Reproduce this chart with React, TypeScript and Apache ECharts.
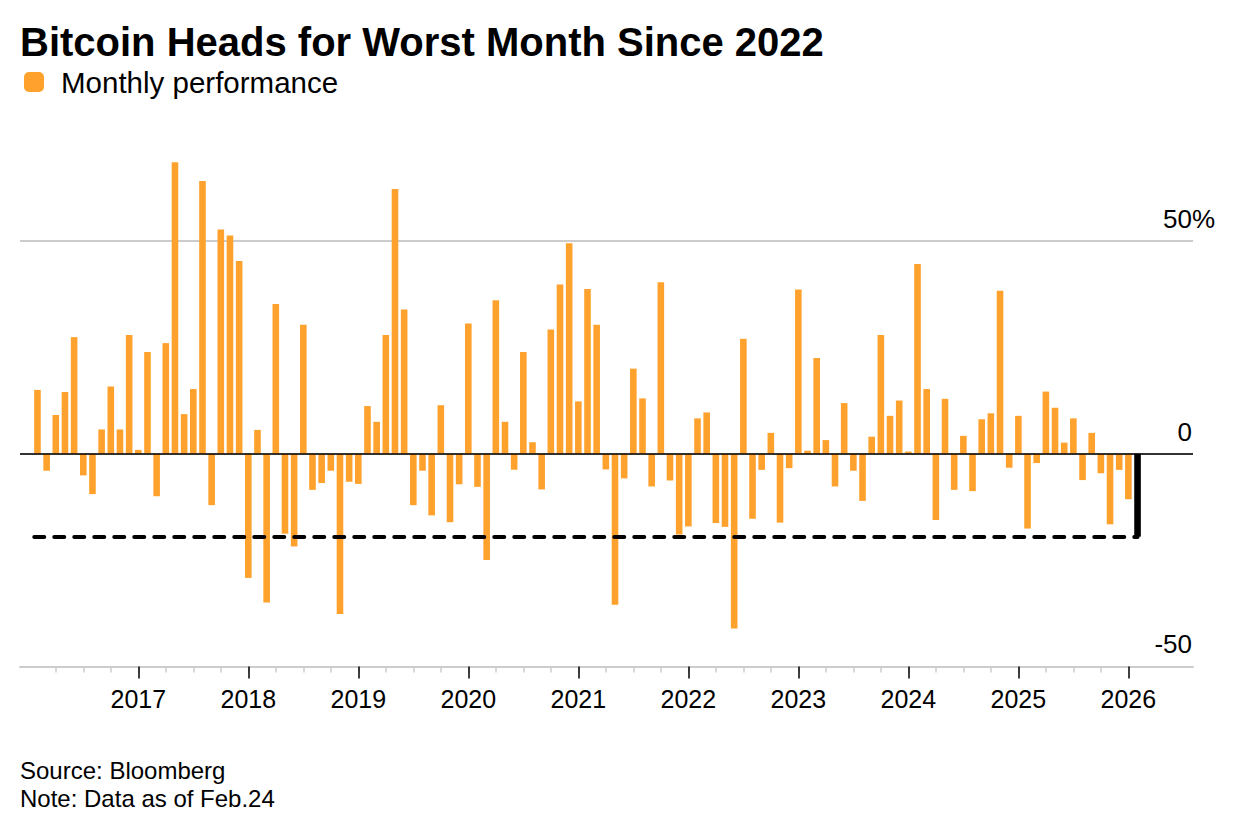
import React, { useEffect, useRef } from 'react';
import * as echarts from 'echarts';

const FONT = '"Liberation Sans", Arial, Helvetica, sans-serif';
const ORANGE = '#ffa22d';

// Monthly Bitcoin performance (%). First month of each row given separately.
const perf2016 = [15.0, -4.0, 9.1, 14.5, 27.4, -5.1, -9.5, 5.7, 15.8, 5.7, 27.9]; // Feb–Dec
const perf2017 = [0.9, 23.9, -10.0, 26.0, 68.5, 9.3, 15.2, 64.1, -12.1, 52.7, 51.3, 45.3];
const perf2018 = [-29.2, 5.6, -35.0, 35.2, -18.8, -21.8, 30.3, -8.5, -6.9, -4.0, -37.7, -6.6];
const perf2019 = [-7.1, 11.2, 7.5, 27.9, 62.2, 33.9, -12.1, -4.0, -14.5, 11.4, -16.1, -7.2];
const perf2020 = [30.6, -7.8, -25.0, 36.1, 7.5, -3.8, 23.9, 2.7, -8.4, 29.2, 39.8, 49.5];
const perf2021 = [12.3, 38.7, 30.3, -3.7, -35.5, -5.8, 20.0, 13.0, -7.7, 40.3, -6.3, -19.0];
const perf2022 = [-17.1, 8.3, 9.7, -16.3, -17.2, -41.1, 27.0, -15.3, -3.8, 4.9, -16.2, -3.4];
const perf2023 = [38.6, 0.7, 22.5, 3.2, -7.7, 11.9, -4.0, -11.1, 4.0, 27.9, 8.9, 12.5];
const perf2024 = [0.5, 44.6, 15.2, -15.6, 12.9, -8.5, 4.2, -8.8, 8.1, 9.5, 38.3, -3.3];
const perf2025 = [8.9, -17.6, -2.2, 14.6, 10.8, 2.6, 8.3, -6.2, 4.9, -4.6, -16.6, -3.8];
const perf2026 = [-10.7, -19.5]; // Jan, Feb (to date, Feb 24)

const years = [2016, 2017, 2018, 2019, 2020, 2021, 2022, 2023, 2024, 2025, 2026];
const firstMonth = [2, 1, 1, 1, 1, 1, 1, 1, 1, 1, 1];
const yearData = [perf2016, perf2017, perf2018, perf2019, perf2020, perf2021, perf2022, perf2023, perf2024, perf2025, perf2026];

const yearLabels = ['2017', '2018', '2019', '2020', '2021', '2022', '2023', '2024', '2025', '2026'];
const yAxisTicks = [-50, 0, 50];

const BASE_YEAR = 2016;
// x = months since Jan 2016
const points: [number, number][] = [];
years.forEach((yr, k) => {
  yearData[k].forEach((v, i) => {
    points.push([(yr - BASE_YEAR) * 12 + firstMonth[k] - 1 + i, v]);
  });
});
const lastIdx = points.length - 1;
const current = points[lastIdx];

const yearTicks = yearLabels.map((l) => (Number(l) - BASE_YEAR) * 12);
const quarterTicks: number[] = [];
for (let m = 3; m < yearTicks[yearTicks.length - 1]; m += 3) quarterTicks.push(m);

const X_MIN = -0.905;
const X_MAX = 127.05;

const option: any = {
  animation: false,
  backgroundColor: '#ffffff',
  textStyle: { fontFamily: FONT },
  title: [
    {
      text: 'Bitcoin Heads for Worst Month Since 2022',
      left: 20,
      top: 22,
      padding: 0,
      textStyle: { fontFamily: FONT, fontSize: 40, fontWeight: 'bold', color: '#000' },
    },
    {
      text: 'Source: Bloomberg\nNote: Data as of Feb.24',
      left: 20,
      top: 756,
      padding: 0,
      textStyle: { fontFamily: FONT, fontSize: 24, fontWeight: 'normal', lineHeight: 28, color: '#000' },
    },
  ],
  legend: {
    left: 19,
    top: 62,
    icon: 'roundRect',
    itemWidth: 20,
    itemHeight: 20,
    selectedMode: false,
    data: ['Monthly performance'],
    textStyle: { fontFamily: FONT, fontSize: 29.5, color: '#000', padding: [0, 0, 0, 12] },
  },
  grid: { left: 20, right: 43, top: 28.3, bottom: 167.6, containLabel: false, outerBoundsMode: 'none' },
  xAxis: [
    {
      type: 'value',
      min: X_MIN,
      max: X_MAX,
      position: 'bottom',
      axisLine: { show: true, onZero: false, lineStyle: { color: '#cccccc', width: 2 } },
      axisTick: { show: true, customValues: quarterTicks, length: 6, lineStyle: { color: '#cccccc', width: 1.5 } },
      axisLabel: { show: false },
      splitLine: { show: false },
    },
    {
      type: 'value',
      min: X_MIN,
      max: X_MAX,
      position: 'bottom',
      axisLine: { show: false, onZero: false },
      axisTick: { show: true, customValues: yearTicks, length: 12, lineStyle: { color: '#000000', width: 1.5 } },
      axisLabel: {
        show: true,
        customValues: yearTicks,
        margin: 20,
        fontFamily: FONT,
        fontSize: 25,
        color: '#000',
        formatter: (v: number) => {
          const i = yearTicks.indexOf(v);
          return i >= 0 ? yearLabels[i] : '';
        },
      },
      splitLine: { show: false },
    },
  ],
  yAxis: {
    type: 'value',
    position: 'right',
    min: -50,
    max: 100,
    interval: 50,
    axisLine: { show: false },
    axisTick: { show: false },
    splitLine: {
      show: true,
      showMaxLine: false,
      lineStyle: { color: ['#cccccc', '#cccccc', '#cccccc', 'rgba(0,0,0,0)'], width: 2 },
    },
    axisLabel: {
      inside: true,
      margin: 1,
      verticalAlign: 'bottom',
      padding: [0, 0, 9, 0],
      fontFamily: FONT,
      fontSize: 26,
      color: '#000',
      formatter: (v: number) => {
        if (yAxisTicks.indexOf(v) < 0) return '';
        return v === 50 ? '{n|50}{p|%}' : '{n|' + String(v) + '}';
      },
      rich: {
        n: { fontFamily: FONT, fontSize: 26, color: '#000', align: 'left' },
        p: { fontFamily: FONT, fontSize: 26, color: '#000', align: 'left', width: 0 },
      },
    },
  },
  series: [
    {
      type: 'bar',
      name: 'Monthly performance',
      xAxisIndex: 0,
      yAxisIndex: 0,
      barWidth: 6.6,
      itemStyle: { color: ORANGE },
      data: points.map((p, i) =>
        i === lastIdx ? { value: p, itemStyle: { color: '#000000' } } : { value: p }
      ),
      markLine: {
        silent: true,
        symbol: 'none',
        animation: false,
        label: { show: false },
        emphasis: { disabled: true },
        data: [
          { yAxis: 0, lineStyle: { color: '#000000', width: 1.5, type: 'solid' } },
          [
            { coord: [0.65, current[1]], lineStyle: { color: '#000000', width: 4, type: [10, 10], cap: 'round' } },
            { coord: [current[0], current[1]] },
          ],
        ],
      },
    },
  ],
};

export default function App() {
  const ref = useRef<HTMLDivElement>(null);
  useEffect(() => {
    if (!ref.current) return;
    const chart = echarts.init(ref.current, null, { renderer: 'svg' });
    chart.setOption(option);
    return () => chart.dispose();
  }, []);
  return (
    <div
      ref={ref}
      style={{ position: 'absolute', left: 0, top: 0, width: 1236, height: 834, background: '#fff' }}
    />
  );
}
